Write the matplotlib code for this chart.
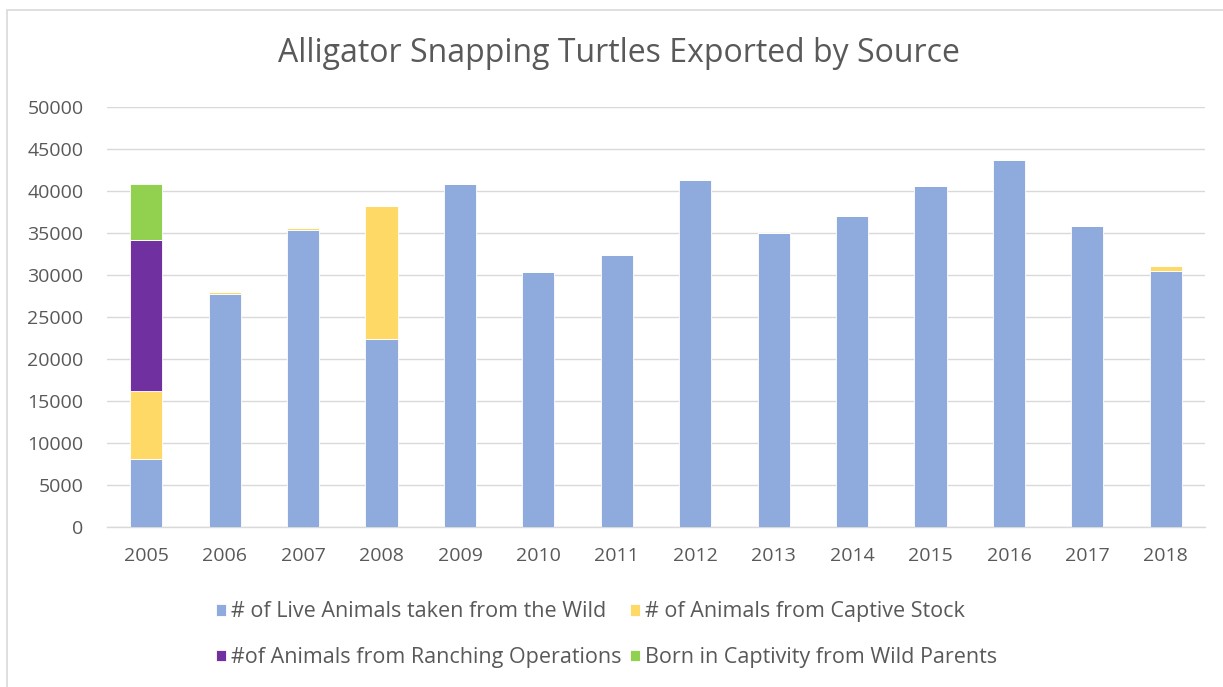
import matplotlib as mpl
import matplotlib.pyplot as plt
import numpy as np
from matplotlib.patches import Rectangle

mpl.rcParams.update(
    {
        "font.family": ["Open Sans", "DejaVu Sans"],
        "font.size": 14,
        "text.color": "#595959",
        "xtick.color": "#595959",
        "ytick.color": "#595959",
    }
)

years = ["2005", "2006", "2007", "2008", "2009", "2010", "2011",
         "2012", "2013", "2014", "2015", "2016", "2017", "2018"]
wild = [8000, 27700, 35350, 22400, 40850, 30300, 32400,
        41300, 35000, 37000, 40600, 43700, 35800, 30500]
captive = [8200, 200, 200, 15800, 0, 0, 0, 0, 0, 0, 0, 0, 0, 500]
ranching = [17950, 0, 0, 0, 0, 0, 0, 0, 0, 0, 0, 0, 0, 0]
born_captive = [6700, 0, 0, 0, 0, 0, 0, 0, 0, 0, 0, 0, 0, 0]

series = [
    ("# of Live Animals taken from the Wild", wild, "#8FAADC"),
    ("# of Animals from Captive Stock", captive, "#FFD966"),
    ("#of Animals from Ranching Operations", ranching, "#7030A0"),
    ("Born in Captivity from Wild Parents", born_captive, "#92D050"),
]

fig = plt.figure(figsize=(12.23, 6.87), dpi=100)
ax = fig.add_axes([0.0875, 0.2336, 0.8978, 0.6107])

# chart-area border, runs off the right and bottom edges
fig.patches.append(
    Rectangle((7 / 1223, -0.05), 1.1, 1 - 10 / 687 + 0.05, transform=fig.transFigure,
              fill=False, edgecolor="#D9D9D9", linewidth=1.2, zorder=0)
)

x = np.arange(len(years))
bottom = np.zeros(len(years))
handles = []
for label, vals, color in series:
    vals = np.asarray(vals, dtype=float)
    bars = ax.bar(x, vals, width=0.41, bottom=bottom, color=color,
                  edgecolor="white", linewidth=0.6, label=label, zorder=3)
    handles.append(bars)
    bottom += vals

ax.set_xlim(-0.5, len(years) - 0.5)
ax.set_ylim(0, 50000)
ax.set_yticks(np.arange(0, 50001, 5000))
ax.set_xticks(x)
ax.set_xticklabels(years)
ax.yaxis.grid(True, color="#D9D9D9", linewidth=1.0, zorder=0)
ax.set_axisbelow(True)
for side in ("top", "right", "left"):
    ax.spines[side].set_visible(False)
ax.spines["bottom"].set_color("#D9D9D9")
ax.spines["bottom"].set_linewidth(1.0)
ax.tick_params(axis="both", length=0, labelsize=14)
ax.tick_params(axis="x", pad=15)
ax.tick_params(axis="y", pad=17)

fig.text(0.506, 0.922, "Alligator Snapping Turtles Exported by Source",
         ha="center", va="center", fontsize=23, color="#595959")

# column-major fill: put wild/captive on the first row, ranching/born on the second
order = [0, 2, 1, 3]
fig.legend(
    handles=[handles[i] for i in order],
    loc="center",
    bbox_to_anchor=(0.496, 0.076),
    ncol=2,
    frameon=False,
    fontsize=15.5,
    handlelength=0.45,
    handleheight=0.45,
    handletextpad=0.25,
    columnspacing=0.4,
    labelspacing=1.15,
)

fig.savefig("out.png", dpi=100)
